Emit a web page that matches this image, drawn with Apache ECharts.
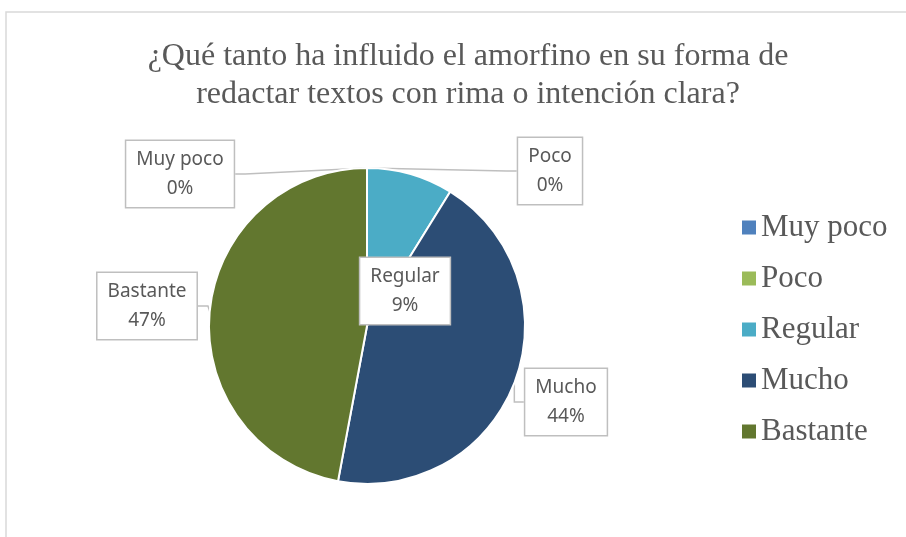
<!DOCTYPE html>
<html>
<head>
<meta charset="utf-8">
<script src="https://cdn.jsdelivr.net/npm/echarts@6/dist/echarts.min.js"></script>
<style>
  html, body { margin: 0; padding: 0; background: #fff; }
  #chart { width: 906px; height: 537px; }
</style>
</head>
<body>
<div id="chart"></div>
<script>
var TITLE = '¿Qué tanto ha influido el amorfino en su forma de\nredactar textos con rima o intención clara?';
var categories = ['Muy poco', 'Poco', 'Regular', 'Mucho', 'Bastante'];
var counts = [0, 0, 3, 15, 16];
var colors = ['#4f81bd', '#9bbb59', '#4bacc6', '#2c4d75', '#62772f'];

// where each callout box sits (centre, px), same order as categories
var labelPos = [[180, 174], [550, 171], [405, 291], [566, 402], [147, 306]];

var chart = echarts.init(document.getElementById('chart'));

var option = {
  animation: false,
  color: colors,
  graphic: [{
    type: 'rect',
    z: -1,
    shape: { x: 6, y: 12, width: 1000, height: 600 },
    style: { fill: 'none', stroke: '#d9d9d9', lineWidth: 1.5 }
  }],
  title: {
    text: TITLE,
    left: 463,
    textAlign: 'center',
    top: 33,
    textStyle: {
      fontFamily: 'Liberation Serif',
      fontWeight: 'normal',
      fontSize: 32,
      lineHeight: 38,
      color: '#595959'
    }
  },
  legend: {
    orient: 'vertical',
    left: 737,
    top: 207,
    icon: 'rect',
    itemWidth: 14,
    itemHeight: 14,
    itemGap: 20,
    data: categories.map(function(name){
      return { name: name, itemStyle: { borderWidth: 0 } };
    }),
    textStyle: {
      fontFamily: 'Liberation Serif',
      fontSize: 31,
      lineHeight: 30,
      color: '#595959',
      padding: [0, 0, 0, 0]
    }
  },
  series: [{
    type: 'pie',
    center: [367, 326],
    radius: 158,
    startAngle: 90,
    clockwise: true,
    avoidLabelOverlap: false,
    itemStyle: { borderColor: '#fff', borderWidth: 2 },
    label: {
      show: true,
      position: 'outside',
      formatter: function(p){
        return p.name + '\n' + Math.round(p.percent) + '%';
      },
      fontFamily: 'Noto Sans',
      fontSize: 19,
      lineHeight: 29,
      color: '#595959',
      backgroundColor: '#fff',
      borderColor: '#bfbfbf',
      borderWidth: 1.5,
      padding: [4, 10, 4, 10],
      align: 'center'
    },
    labelLine: {
      show: true,
      length: 10,
      length2: 10,
      lineStyle: { color: '#bfbfbf', width: 1.5 }
    },
    labelLayout: function(params){
      var pos = labelPos[params.dataIndex];
      return { x: pos[0], y: pos[1], align: 'center', verticalAlign: 'middle' };
    },
    data: categories.map(function(name, i){
      return { name: name, value: counts[i] };
    })
  }]
};

chart.setOption(option);
</script>
</body>
</html>
